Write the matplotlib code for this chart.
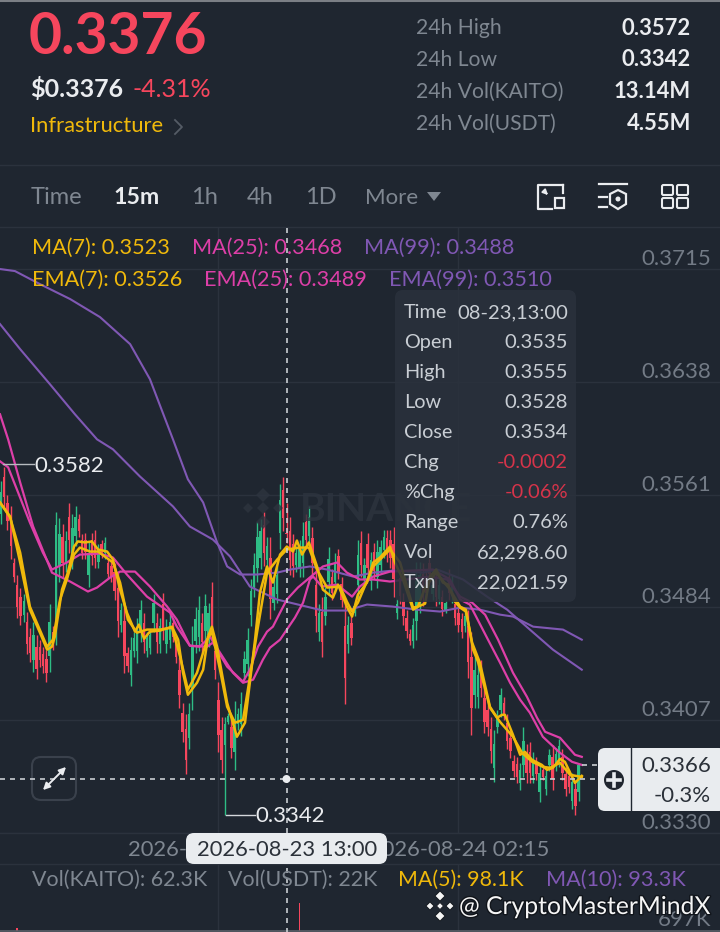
import numpy as np
import matplotlib
matplotlib.use("Agg")
import matplotlib.pyplot as plt
from matplotlib.patches import FancyBboxPatch, Circle, Rectangle, Polygon
import matplotlib.patheffects as pe

# prices are kept in ticks of 0.0001
opens = [3548,3573,3555,3544,3514,3499,3491,3479,3474,3464,3448,3457,3457,3452,3449,3451,3467,3470,3512,3532,3515,3546,3520,3533,3544,3530,3530,3506,3530,3530,
         3515,3527,3521,3514,3512,3508,3497,3472,3475,3453,3438,3454,3454,3467,3473,3454,3456,3473,3473,3459,3486,3459,3462,3473,3460,3441,3412,3401,3395,3428,
         3461,3464,3473,3468,3465,3491,3454,3421,3400,3390,3406,3402,3385,3404,3404,3439,3445,3479,3498,3511,3518,3540,3516,3518,3487,3493,3535,3564,3535,3536,
         3527,3513,3511,3514,3542,3533,3531,3499,3467,3481,3478,3501,3505,3501,3519,3500,3471,3459,3473,3480,3499,3528,3503,3527,3502,3522,3505,3513,3523,3531,
         3530,3527,3480,3504,3488,3477,3466,3461,3475,3489,3507,3505,3514,3493,3504,3490,3491,3482,3505,3492,3486,3480,3476,3471,3471,3450,3424,3423,3442,3422,
         3414,3401,3374,3402,3414,3419,3405,3395,3379,3377,3364,3376,3384,3385,3369,3378,3358,3373,3360,3376,3382,3376,3380,3382,3370,3369,3352,3360,3358]
highs = [3570,3580,3561,3553,3518,3506,3497,3493,3481,3470,3474,3465,3462,3457,3455,3486,3471,3549,3545,3541,3536,3555,3548,3553,3548,3534,3535,3529,3535,3537,
         3527,3530,3532,3518,3516,3514,3508,3487,3487,3457,3464,3467,3477,3489,3480,3467,3469,3493,3480,3477,3494,3476,3480,3477,3464,3450,3419,3411,3419,3471,
         3484,3492,3480,3493,3487,3501,3460,3433,3409,3409,3412,3409,3420,3415,3426,3454,3470,3503,3521,3542,3544,3549,3532,3532,3503,3512,3568,3573,3555,3546,
         3534,3526,3530,3542,3548,3553,3539,3510,3486,3491,3498,3525,3510,3521,3524,3505,3489,3478,3478,3487,3530,3536,3518,3535,3522,3528,3530,3530,3537,3537,
         3537,3539,3490,3510,3494,3482,3469,3477,3515,3515,3514,3510,3518,3503,3510,3503,3496,3489,3510,3506,3491,3485,3480,3482,3482,3467,3450,3446,3448,3430,
         3420,3409,3400,3414,3429,3423,3411,3400,3383,3382,3378,3402,3391,3392,3385,3382,3378,3375,3373,3387,3390,3388,3394,3387,3375,3373,3371,3366,3376]
lows = [3541,3552,3537,3517,3501,3477,3472,3474,3452,3447,3440,3435,3443,3439,3433,3440,3455,3458,3501,3505,3508,3521,3510,3526,3532,3517,3517,3498,3513,3511,
        3511,3518,3517,3503,3501,3489,3464,3467,3439,3440,3430,3450,3446,3460,3453,3450,3452,3467,3453,3453,3462,3453,3456,3460,3446,3415,3392,3370,3387,3414,
        3453,3454,3453,3460,3457,3460,3435,3385,3371,3342,3404,3381,3373,3400,3396,3434,3437,3471,3491,3501,3510,3512,3510,3476,3482,3487,3524,3536,3528,3506,
        3505,3508,3505,3505,3524,3526,3505,3467,3461,3450,3472,3493,3489,3494,3503,3484,3418,3453,3458,3478,3489,3505,3498,3503,3496,3503,3497,3508,3518,3515,
        3511,3491,3476,3486,3472,3463,3458,3456,3462,3480,3485,3489,3503,3489,3485,3486,3478,3480,3489,3487,3472,3467,3463,3467,3436,3397,3415,3415,3423,3398,
        3396,3378,3365,3398,3409,3407,3387,3381,3368,3364,3359,3368,3364,3364,3364,3366,3351,3366,3356,3372,3359,3372,3375,3366,3355,3357,3346,3342,3352]
closes = [3563,3559,3543,3526,3505,3484,3478,3488,3459,3453,3465,3442,3448,3444,3439,3474,3459,3540,3534,3514,3529,3530,3538,3546,3536,3521,3522,3521,3519,3518,
          3523,3521,3528,3507,3505,3495,3475,3482,3451,3444,3455,3463,3469,3482,3460,3463,3465,3487,3460,3471,3470,3470,3474,3464,3450,3424,3399,3380,3411,3457,
          3476,3482,3460,3485,3480,3470,3441,3397,3380,3404,3410,3388,3408,3411,3418,3449,3462,3495,3513,3532,3536,3521,3526,3490,3498,3506,3557,3545,3534,3516,
          3512,3521,3524,3533,3530,3546,3514,3478,3480,3460,3491,3517,3494,3514,3508,3489,3436,3472,3463,3485,3520,3513,3513,3511,3516,3509,3522,3525,3532,3521,
          3518,3503,3486,3492,3478,3468,3461,3472,3502,3506,3492,3494,3507,3499,3491,3499,3483,3487,3494,3501,3477,3472,3467,3478,3447,3415,3441,3438,3429,3406,
          3402,3386,3391,3410,3424,3411,3393,3386,3372,3368,3373,3393,3371,3371,3380,3370,3371,3368,3369,3383,3367,3384,3389,3371,3360,3361,3365,3348,3376]

ma7_idx = [-0.3,2.8,5.9,8.9,12,14.2,15.7,16.6,18.8,20.6,22.5,23.7,25.9,28,29.9,32.7,34.5,36.7,38.8,41.3,42.5,44.1,45.9,49,52.7,54.6,56.1,57.6,60.4,62.3,63.8,65,66.6,69.7,72.7,75.2,78.3,79.8,82,83.8,86,88.1,90,91.2,92.8,94.9,97.4,99.2,102.3,103.9,106.6,108.2,110,112.8,114.7,116.8,119.9,121.4,123.9,127,128.5,130.7,132.2,134.1,136.2,137.8,139.9,141.5,143.3,145.2,147,147.6,150.7,152.9,154.4,155.3,157.8,160,161.5,163.7,166.7,168.3,170.1,172.3,173.8,176.9,179]
ma7_val = [3555.6,3546.1,3514.6,3482.4,3466.7,3455.1,3457.1,3464,3496.1,3507.7,3525.5,3529,3528.3,3529,3523.5,3522.1,3516.6,3496.1,3480.4,3467.4,3472.2,3462.6,3467.4,3468.1,3470.8,3461.9,3439.3,3424.3,3432.5,3441.4,3464,3470.8,3457.1,3418.8,3395.6,3405.2,3462,3494.1,3511.9,3500.9,3520,3525.5,3522.1,3529.6,3520,3528.3,3511.9,3496.1,3490.6,3499.5,3484.5,3477.7,3492.7,3500.9,3514.6,3518,3525.5,3514.6,3503,3482.4,3484.5,3486.5,3505,3509.8,3500.9,3499.5,3487.9,3483.8,3481.1,3459.9,3449.6,3446.2,3416.1,3408.6,3410.6,3410.6,3396.9,3383.3,3385.3,3379.8,3376.4,3373,3374.4,3380.5,3378.5,3364.1,3368.9]
ema7_idx = [-0.3,2.8,5.9,8.9,14.2,16,18.2,20.3,22.5,24.3,27.4,29.9,34.5,36.7,39.1,41.9,45,49,52.7,55.2,57.6,60.4,63.5,65,67.5,69.7,72.1,74.6,78.9,82,85.1,88.1,92.2,94.9,97.4,100.5,104.5,106.6,108.2,110,114.7,119.9,123,127,128.5,130.7,134.1,138.4,141.5,143.3,145.5,147,150.7,153.8,157.8,160.6,163.7,167,169.2,172.3,175.4,179]
ema7_val = [3555.6,3545.4,3521.4,3484.5,3457.1,3461.9,3489.3,3503,3520,3524.8,3522.1,3522.1,3514.6,3500.9,3475.6,3466.7,3468.8,3468.8,3470.1,3450.3,3427.7,3439.3,3461.9,3467.4,3441.4,3416.1,3405.2,3407.2,3466.7,3507.7,3516.6,3523.5,3524.8,3524.8,3509.8,3497.5,3498.2,3487.9,3481.1,3487.2,3511.9,3523.5,3514.6,3483.8,3484.5,3497.5,3507.7,3496.1,3484.5,3482.4,3455.1,3446.9,3415.4,3405.8,3395.6,3384.6,3378.5,3375.1,3374.4,3377.8,3369.6,3368.2]
ma25_idx = [-0.3,2.2,5.9,9.9,15.7,21.3,26.8,29.6,33.6,36.7,41.3,45.9,51.2,54.2,58.2,61.3,64.4,67.5,71.5,74.6,77.7,80.7,82.9,86,88.1,90.6,93.1,95.2,96.2,98.9,103.6,108.2,110.6,114.7,119.9,133.1,138.4,141.5,144.5,150.1,153.8,156.9,160,163,167,172.3,176,179]
ma25_val = [3615.8,3598.7,3569.3,3539.2,3507.7,3501.6,3494.8,3497.5,3504.3,3508.4,3508.4,3498.2,3484.5,3475.6,3457.8,3457.1,3464,3453,3439.3,3432.5,3434.6,3448.2,3456.4,3461.9,3468.8,3477,3487.2,3503,3505,3498.2,3499.5,3491.3,3498.2,3505,3508.4,3509.8,3503,3489.3,3485.9,3461.9,3446.2,3432.5,3420.9,3412,3395.6,3384.6,3378.5,3376.4]
ema25_idx = [-0.3,2.2,4.9,8.9,12.9,15.7,20.3,24.3,30.5,34.5,38.8,45,52.1,54.2,58.2,63.5,65.3,69.7,74.6,76.7,79.2,82,83.8,86,88.1,91.5,95.9,99.2,103.6,106.6,110.6,114.7,119.9,132.2,137.5,141.5,145.2,149.2,153.2,157.8,162.1,165.2,167.7,172.3,176.9,179]
ema25_val = [3583.7,3579.6,3564.5,3541.9,3521.4,3509.8,3514.6,3520,3520.7,3518,3506.4,3491.3,3480.4,3470.8,3457.8,3457.1,3459.9,3443.5,3433.2,3441.4,3457.1,3467.4,3470.8,3480.4,3489.3,3497.5,3505.7,3511.9,3514.6,3507.7,3503,3503,3501.6,3505,3503,3491.3,3487.2,3479,3461.9,3439.3,3422.9,3408.6,3399,3394.9,3383.3,3381.9]
ma99_idx = [-0.3,4.3,12,21.3,30.5,39.8,45.9,53,57.6,62.3,66.6,69.7,73.7,78.9,85.1,89.1,95.2,100.5,108.5,114.7,120.8,130.1,134.4,142.4,149.8,156,163,170.1,179]
ma99_val = [3715,3713.6,3704.7,3694.5,3682.2,3663.7,3639.8,3598.7,3571.4,3555.6,3528.3,3511.9,3506.4,3506.4,3507.7,3509.8,3511.9,3509.8,3505,3507.7,3509.1,3507.7,3509.8,3503,3491.3,3482.4,3468.8,3455.1,3441.4]
ema99_idx = [-0.3,5.9,15.1,22.8,29.6,34.5,42.8,53,58.2,65.3,70.6,76.7,85.1,89.1,99.2,106.6,112.8,120.8,128.2,135.3,141.5,147.6,153.8,157.8,164,173.2,179]
ema99_val = [3677.4,3660.3,3636.3,3615.8,3598.7,3591.9,3573.4,3552.9,3539.2,3530.3,3518.7,3498.2,3489.3,3487.2,3481.8,3481.8,3485.9,3484.5,3482.4,3481.1,3483.8,3482.4,3479,3477.7,3470.8,3468.8,3461.9]

price_ticks = [0.3715, 0.3638, 0.3561, 0.3484, 0.3407, 0.3330]
time_grid_idx = [66.9, 140.8]
time_labels = ["2026-08-23 13:00", "2026-08-24 02:15"]
vol_idx = [5, 92]
vol_val = [717e3, 967e3]

BG = "#1f2630"
GRID = "#2b323d"
UP = "#2ebd85"
DOWN = "#f6465d"
YEL = "#f0b90b"
PINK = "#dd3fa8"
PURP = "#8058b4"
GREY = "#7f8791"
WHITE = "#eaecef"
AXIS = "#737b86"
DARK = "#2b3139"

plt.rcParams["font.family"] = ["Lato", "DejaVu Sans"]
W, H = 720, 932
fig = plt.figure(figsize=(7.2, 9.32), dpi=100, facecolor=BG)


def frame(top, bottom):
    a = fig.add_axes([0, 1 - bottom / H, 1, (bottom - top) / H], facecolor=BG)
    for s in a.spines.values():
        s.set_visible(False)
    a.tick_params(length=0, labelleft=False, labelbottom=False)
    return a


ax = frame(227, 833)
ax.set_xlim(-0.31, 221.6)
ax.set_ylim(0.33299, 0.37437)
ax.set_yticks(price_ticks)
ax.set_xticks(time_grid_idx)
ax.grid(True, color=GRID, lw=1)
ax.set_axisbelow(True)

x = np.arange(len(opens))
o, h, l, c = [np.array(v) / 1e4 for v in (opens, highs, lows, closes)]
up = c >= o
cols = np.where(up, UP, DOWN)
ax.vlines(x, l, h, colors=cols, lw=1.0, zorder=2)
ax.bar(x, np.maximum(np.abs(c - o), 0.0001), bottom=np.minimum(o, c), width=0.75, color=cols, zorder=2)

for idx, val, col, lw in [(ma99_idx, ma99_val, PURP, 1.5), (ema99_idx, ema99_val, PURP, 1.5),
                          (ma25_idx, ma25_val, PINK, 1.6), (ema25_idx, ema25_val, PINK, 1.6),
                          (ema7_idx, ema7_val, YEL, 1.8), (ma7_idx, ma7_val, YEL, 1.8)]:
    ax.plot(idx, np.array(val) / 1e4, color=col, lw=lw, zorder=3, solid_joinstyle="round")

for p in price_ticks:
    ax.annotate(f"{p:.4f}", xy=(1, p), xycoords=("axes fraction", "data"), xytext=(-6.5, 7.2),
                textcoords="offset points", ha="right", va="center", color=AXIS, fontsize=16)

# volume pane, its baseline sits below the crop
vax = frame(864, 931)
vax.set_xlim(-0.31, 221.6)
vax.set_ylim(687e3, 1357e3)
vax.set_xticks(time_grid_idx)
vax.set_yticks([])
vax.grid(True, axis="x", color=GRID, lw=1)
vax.set_axisbelow(True)
vax.bar(vol_idx, vol_val, width=0.55, color=DOWN)
vax.annotate("697K", xy=(1, 697e3), xycoords=("axes fraction", "data"), xytext=(-6.5, 7.2),
             textcoords="offset points", ha="right", va="center", color=AXIS, fontsize=16)

# everything around the chart, in screen pixels
ui = fig.add_axes([0, 0, 1, 1], zorder=5)
ui.set_xlim(0, W)
ui.set_ylim(H, 0)
ui.axis("off")


def t(px, py, s, color=WHITE, size=15.6, ha="left", weight="normal", **kw):
    return ui.text(px, py + 1.5, s, color=color, fontsize=size, ha=ha, va="center", fontweight=weight, **kw)


def box(x0, y0, x1, y1, fc, ec="none", r=6, **kw):
    p = FancyBboxPatch((x0 + r, y0 + r), x1 - x0 - 2 * r, y1 - y0 - 2 * r, boxstyle=f"round,pad={r},rounding_size={r}",
                       fc=fc, ec=ec, lw=1.5, **kw)
    ui.add_patch(p)
    return p


ui.plot([0, W], [1, 1], color="#7b7f85", lw=1.5)
ui.plot([0, W], [931, 931], color="#5a6069", lw=1.2)
for yy in [165, 227, 833, 864]:
    ui.plot([0, W], [yy, yy], color=GRID, lw=1)

t(29, 36.5, "0.3376", color=DOWN, size=41, weight="bold")
t(30, 88, "$0.3376", size=18, weight="bold")
t(132, 88, "-4.31%", color=DOWN, size=18)
t(30, 125, "Infrastructure", color=YEL, size=15.8)
ui.plot([175, 182, 175], [120, 127, 134], color="#555c66", lw=1.3)

for yy, lab, val in [(27, "24h High", "0.3572"), (58, "24h Low", "0.3342"),
                     (90, "24h Vol(KAITO)", "13.14M"), (122, "24h Vol(USDT)", "4.55M")]:
    t(416, yy, lab, color=GREY, size=15.2)
    t(691, yy, val, size=15.8, ha="right", weight="bold")

for px, lab, sz in [(31, "Time", 17), (191, "1h", 17), (247, "4h", 17), (305, "1D", 17), (365, "More", 16)]:
    t(px, 196, lab, color=GREY, size=sz)
t(113, 196, "15m", size=16.6, weight="bold")
ui.add_patch(Polygon([[427, 192], [441, 192], [434, 201]], fc=GREY))

# toolbar icons
IC = WHITE
ui.plot([563, 538, 538, 552], [185, 185, 209, 209], color=IC, lw=1.6)
ui.plot([563, 563], [185, 193], color=IC, lw=1.6)
ui.add_patch(Rectangle((555, 198), 9, 10, fc="none", ec=IC, lw=1.6))
ui.annotate("", xy=(550, 197), xytext=(543, 190), arrowprops=dict(arrowstyle="-|>", color=IC, lw=1.4, mutation_scale=7))
ui.plot([599, 627], [184, 184], color=IC, lw=1.6)
ui.plot([599, 607], [197, 197], color=IC, lw=1.6)
ui.plot([599, 607], [207, 207], color=IC, lw=1.6)
ui.add_patch(Polygon([[618, 190], [626, 194], [626, 204], [618, 209], [610, 204], [610, 194]], fc="none", ec=IC, lw=1.6))
ui.add_patch(Circle((618, 199), 2.5, fc=IC))
for bx, by in [(662, 185), (677, 185), (662, 198), (677, 198)]:
    box(bx, by, bx + 11, by + 10, "none", ec=IC, r=1.5)

t(32, 246, "MA(7): 0.3523", color=YEL)
t(192, 246, "MA(25): 0.3468", color=PINK)
t(364, 246, "MA(99): 0.3488", color=PURP)
t(32, 278, "EMA(7): 0.3526", color=YEL)
t(204, 278, "EMA(25): 0.3489", color=PINK)
t(389, 278, "EMA(99): 0.3510", color=PURP)

# faint exchange mark
for mx, my, s in [(263, 495, 7), (263, 522, 7), (248, 508, 5), (263, 508, 6), (278, 508, 5)]:
    ui.add_patch(Polygon([[mx, my - s], [mx + s, my], [mx, my + s], [mx - s, my]], fc="#2d343f", alpha=0.8, zorder=1))
t(300, 508, "BINANCE", color="#2d343f", size=28, weight="bold", alpha=0.8, zorder=1)

# crosshair
ui.plot([286.5, 286.5], [228, 932], color="#c9cdd2", lw=1.2, dashes=(3, 3))
ui.plot([0, 600], [779, 779], color="#c9cdd2", lw=1.2, dashes=(3, 3))
ui.add_patch(Circle((286.5, 779), 4, fc=WHITE, zorder=4))
ui.plot([582, 598], [765, 765], color="#c9cdd2", lw=1.2, dashes=(3, 3))

# high / low callouts
ui.plot([3, 34], [464, 464], color="#b7bbc0", lw=1)
t(34, 464, "0.3582", size=16)
ui.plot([226, 255], [815, 815], color="#d5d8dc", lw=1)
t(255, 815, "0.3342", size=16)

# expand button
box(32, 757, 76, 800, "none", ec="#3a414c", r=9)
ui.annotate("", xy=(68, 765), xytext=(41, 792), arrowprops=dict(arrowstyle="<|-|>", color=WHITE, lw=1.4, mutation_scale=10))

# tooltip
box(395, 290, 576, 602, "#2a313c", r=8, alpha=0.88, zorder=6)
rows = [("Time", "08-23,13:00", "#c9ced4"), ("Open", "0.3535", "#c9ced4"), ("High", "0.3555", "#c9ced4"),
        ("Low", "0.3528", "#c9ced4"), ("Close", "0.3534", "#c9ced4"), ("Chg", "-0.0002", "#d6344a"),
        ("%Chg", "-0.06%", "#d6344a"), ("Range", "0.76%", "#c9ced4"), ("Vol", "62,298.60", "#c9ced4"),
        ("Txn", "22,021.59", "#c9ced4")]
for n, (lab, val, col) in enumerate(rows):
    t(404, 311 + 30 * n, lab, color="#c9ced4", size=14.3, zorder=7)
    t(568, 311 + 30 * n, val, color=col, size=14.5, ha="right", zorder=7)

# crosshair price tag
box(598, 748, 726, 811, "#e9ecef", r=7)
ui.plot([631, 631], [748, 811], color=BG, lw=1)
ui.add_patch(Circle((614, 780), 10, fc="#20262f"))
ui.plot([608, 620], [780, 780], color="#e9ecef", lw=2.6)
ui.plot([614, 614], [774, 786], color="#e9ecef", lw=2.6)
t(711, 765, "0.3366", color=DARK, size=16, ha="right")
t(711, 794, "-0.3%", color=DARK, size=16, ha="right")

# time axis
t(time_grid_idx[0] * 3.245 + 1, 848, time_labels[0], color=GREY, size=15.8, ha="center")
t(time_grid_idx[1] * 3.245 + 2, 848, time_labels[1], color=GREY, size=15.8, ha="center")
box(186, 833, 387, 864, "#e9ecef", r=8, zorder=4)
t(287, 848, time_labels[0], color=DARK, size=15.8, ha="center", zorder=5)

t(32, 878, "Vol(KAITO): 62.3K", color=GREY, size=15.4)
t(228, 878, "Vol(USDT): 22K", color=GREY, size=15.4)
t(398, 878, "MA(5): 98.1K", color=YEL, size=15.4)
t(546, 878, "MA(10): 93.3K", color=PURP, size=15.6)

shadow = [pe.withStroke(linewidth=2, foreground="#11151b")]
t(459, 905, "@ CryptoMasterMindX", color="#f5f5f5", size=17.8, path_effects=shadow)
for mx, my, s in [(440, 896, 5), (440, 916, 5), (430, 906, 4), (450, 906, 4), (440, 906, 3.5)]:
    ui.add_patch(Polygon([[mx, my - s], [mx + s, my], [mx, my + s], [mx - s, my]], fc="#f5f5f5", ec="#11151b", lw=0.6))

fig.savefig("out.png", dpi=100, facecolor=BG)
